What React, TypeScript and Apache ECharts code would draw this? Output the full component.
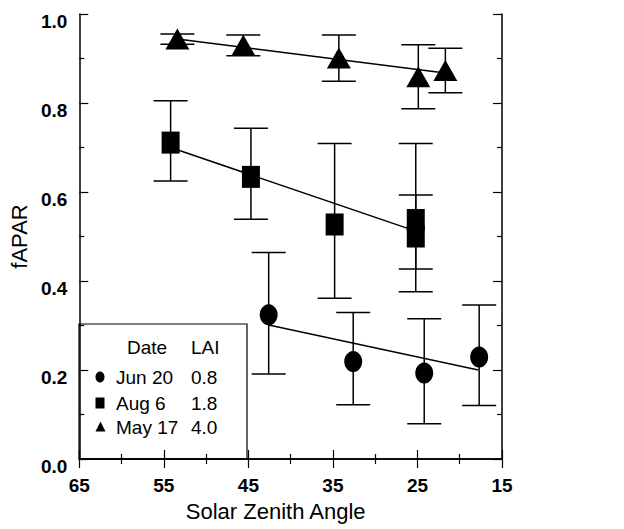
import { useEffect, useRef } from "react";
import * as echarts from "echarts";

// May 17 (triangles)
const triX = [53.4, 45.6, 34.3, 24.9, 21.7];
const triY = [0.944, 0.93, 0.901, 0.859, 0.873];
const triLow = [0.932, 0.906, 0.849, 0.787, 0.823];
const triHigh = [0.955, 0.953, 0.953, 0.931, 0.923];
const triFitX = [53.4, 21.5];
const triFitY = [0.944, 0.867];

// Aug 6 (squares)
const sqX = [54.2, 44.7, 34.8, 25.2, 25.2];
const sqY = [0.711, 0.634, 0.527, 0.537, 0.5];
const sqLow = [0.625, 0.539, 0.361, 0.376, 0.427];
const sqHigh = [0.805, 0.743, 0.709, 0.709, 0.593];
const sqFitX = [54.2, 25.2];
const sqFitY = [0.7, 0.512];

// Jun 20 (circles)
const ciX = [42.6, 32.6, 24.2, 17.7];
const ciY = [0.324, 0.219, 0.193, 0.229];
const ciLow = [0.191, 0.122, 0.079, 0.12];
const ciHigh = [0.464, 0.329, 0.315, 0.346];
const ciFitX = [42.6, 17.8];
const ciFitY = [0.301, 0.2];

const legendDates = ["Jun 20", "Aug 6", "May 17"];
const legendLAI = ["0.8", "1.8", "4.0"];
const legendHeader = ["Date", "LAI"];

const FONT = "Liberation Sans, Arial, sans-serif";
const BLACK = "#000";

function zip2(a: number[], b: number[]) {
  return a.map((v, i) => [v, b[i]]);
}
function zip3(a: number[], b: number[], c: number[]) {
  return a.map((v, i) => [v, b[i], c[i]]);
}

const errRender = (params: any, api: any) => {
  const x = api.value(0);
  const lo = api.value(1);
  const hi = api.value(2);
  const pLo = api.coord([x, lo]);
  const pHi = api.coord([x, hi]);
  const w = 17;
  const st = { stroke: BLACK, lineWidth: 1.5 };
  return {
    type: "group",
    children: [
      { type: "line", shape: { x1: pLo[0], y1: pLo[1], x2: pHi[0], y2: pHi[1] }, style: st },
      { type: "line", shape: { x1: pLo[0] - w, y1: pLo[1], x2: pLo[0] + w, y2: pLo[1] }, style: st },
      { type: "line", shape: { x1: pHi[0] - w, y1: pHi[1], x2: pHi[0] + w, y2: pHi[1] }, style: st },
    ],
  };
};

export default function App() {
  const ref = useRef<HTMLDivElement>(null);
  useEffect(() => {
    const chart = echarts.init(ref.current!, null, { renderer: "svg" });
    const axisLine = { show: true, lineStyle: { color: BLACK, width: 1.5 } };
    const tick = { show: true, inside: true, length: 9, lineStyle: { color: BLACK, width: 1.2 } };
    const minor = { show: true, splitNumber: 2, length: 5, lineStyle: { color: BLACK, width: 1.2 } };
    const xBase = {
      type: "value",
      min: 15,
      max: 65,
      interval: 10,
      inverse: true,
      axisLine,
      axisTick: tick,
      minorTick: minor,
      splitLine: { show: false },
      minorSplitLine: { show: false },
    };
    const yBase = {
      type: "value",
      min: 0,
      max: 1,
      interval: 0.2,
      axisLine,
      axisTick: tick,
      minorTick: minor,
      splitLine: { show: false },
      minorSplitLine: { show: false },
    };

    const lx = 79, ly = 324, lw = 168, lh = 135;
    const rowY = [377, 403, 427];
    const legendChildren: any[] = [
      { type: "rect", shape: { x: lx, y: ly, width: lw, height: lh }, style: { fill: "none", stroke: BLACK, lineWidth: 1.2 } },
      { type: "text", x: 127, y: 347, style: { text: legendHeader[0], font: `19px ${FONT}`, fill: BLACK, verticalAlign: "middle" } },
      { type: "text", x: 191, y: 347, style: { text: legendHeader[1], font: `19px ${FONT}`, fill: BLACK, verticalAlign: "middle" } },
    ];
    legendDates.forEach((d, i) => {
      legendChildren.push({ type: "text", x: 116, y: rowY[i], style: { text: d, font: `19px ${FONT}`, fill: BLACK, verticalAlign: "middle" } });
      legendChildren.push({ type: "text", x: 191, y: rowY[i], style: { text: legendLAI[i], font: `19px ${FONT}`, fill: BLACK, verticalAlign: "middle" } });
    });
    legendChildren.push({ type: "ellipse", shape: { cx: 100, cy: rowY[0], rx: 4.5, ry: 5.5 }, style: { fill: BLACK } });
    legendChildren.push({ type: "rect", shape: { x: 95.5, y: rowY[1] - 5.5, width: 9, height: 11 }, style: { fill: BLACK } });
    legendChildren.push({
      type: "polygon",
      shape: { points: [[100.5, rowY[2] - 5.5], [105.5, rowY[2] + 4.5], [95.5, rowY[2] + 4.5]] },
      style: { fill: BLACK },
    });

    const scatterStyle = { color: BLACK, opacity: 1 };
    const option: any = {
      animation: false,
      backgroundColor: "#fff",
      textStyle: { fontFamily: FONT, color: BLACK },
      grid: { left: 79, right: 122, top: 14, bottom: 70, containLabel: false },
      xAxis: [
        {
          ...xBase,
          position: "bottom",
          axisLabel: { color: BLACK, fontSize: 19, fontWeight: "bold", fontFamily: FONT, margin: 17 },
          name: "Solar Zenith Angle",
          nameLocation: "middle",
          nameGap: 41,
          nameTextStyle: { color: BLACK, fontSize: 22, fontFamily: FONT, padding: [0, 30, 0, 0] },
        },
        { ...xBase, position: "top", axisLabel: { show: false } },
      ],
      yAxis: [
        {
          ...yBase,
          position: "left",
          axisLabel: {
            color: BLACK,
            fontSize: 19,
            fontWeight: "bold",
            fontFamily: FONT,
            margin: 12,
            verticalAlign: "top",
            padding: [-2, 0, 0, 0],
            formatter: (v: number) => v.toFixed(1),
          },
          name: "fAPAR",
          nameLocation: "middle",
          nameGap: 40,
          nameTextStyle: { color: BLACK, fontSize: 22, fontFamily: FONT },
        },
        { ...yBase, position: "right", axisLabel: { show: false } },
      ],
      graphic: { elements: [{ type: "group", children: legendChildren, z: 100 }] },
      series: [
        { type: "line", data: zip2(triFitX, triFitY), symbol: "none", lineStyle: { color: BLACK, width: 1.5 }, z: 2 },
        { type: "line", data: zip2(sqFitX, sqFitY), symbol: "none", lineStyle: { color: BLACK, width: 1.5 }, z: 2 },
        { type: "line", data: zip2(ciFitX, ciFitY), symbol: "none", lineStyle: { color: BLACK, width: 1.5 }, z: 2 },
        { type: "custom", renderItem: errRender, data: zip3(triX, triLow, triHigh), encode: { x: 0, y: [1, 2] }, z: 3 },
        { type: "custom", renderItem: errRender, data: zip3(sqX, sqLow, sqHigh), encode: { x: 0, y: [1, 2] }, z: 3 },
        { type: "custom", renderItem: errRender, data: zip3(ciX, ciLow, ciHigh), encode: { x: 0, y: [1, 2] }, z: 3 },
        { type: "scatter", data: zip2(triX, triY), symbol: "triangle", symbolSize: [24, 21], itemStyle: scatterStyle, z: 5 },
        { type: "scatter", data: zip2(sqX, sqY), symbol: "rect", symbolSize: [18, 22], itemStyle: scatterStyle, z: 5 },
        { type: "scatter", data: zip2(ciX, ciY), symbol: "circle", symbolSize: [18, 21], itemStyle: scatterStyle, z: 5 },
      ],
    };
    chart.setOption(option);
    return () => chart.dispose();
  }, []);
  return <div ref={ref} style={{ position: "fixed", left: 0, top: 0, width: 624, height: 529 }} />;
}
